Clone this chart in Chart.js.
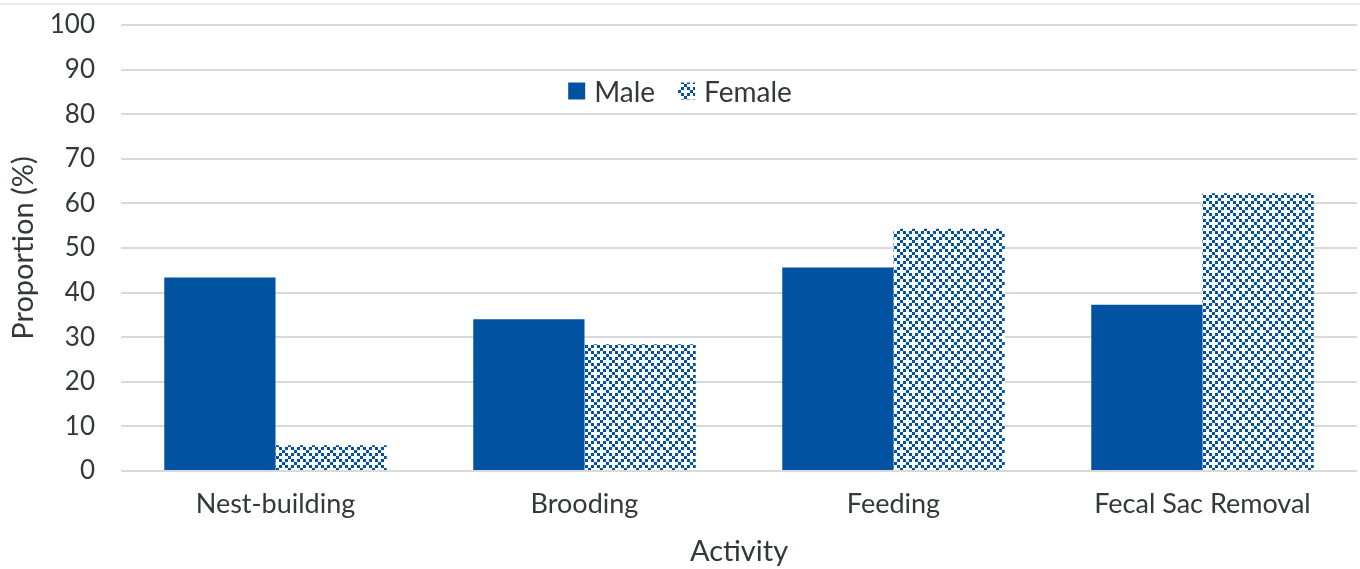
<!DOCTYPE html>
<html>
<head>
<meta charset="utf-8">
<script src="https://cdn.jsdelivr.net/npm/chart.js@4.4.1/dist/chart.umd.min.js"></script>
<style>
  html, body { margin: 0; padding: 0; background: #ffffff; }
  #wrap { width: 1360px; height: 569px; position: relative; }
</style>
</head>
<body>
<div id="wrap"><canvas id="c" width="1360" height="569"></canvas></div>
<script>
const categories = ['Nest-building', 'Brooding', 'Feeding', 'Fecal Sac Removal'];
const maleValues = [43.4, 34.0, 45.6, 37.3];
const femaleValues = [5.8, 28.4, 54.3, 62.3];
const yTicks = [0, 10, 20, 30, 40, 50, 60, 70, 80, 90, 100];
const seriesNames = ['Male', 'Female'];

const BLUE = '#0152a0';
const TEXT = '#333838';
const GRID = '#d9d9d9';
const FONT = "Lato, 'Open Sans', sans-serif";

function makePattern() {
  const cell = 3, n = 4;
  const cv = document.createElement('canvas');
  cv.width = cell * n; cv.height = cell * n;
  const g = cv.getContext('2d');
  g.fillStyle = '#ffffff';
  g.fillRect(0, 0, cv.width, cv.height);
  g.fillStyle = BLUE;
  for (let y = 0; y < n; y++) {
    for (let x = 0; x < n; x++) {
      if ((x + y) % 4 === 0 || (x - y + 4) % 4 === 0) {
        g.fillRect(x * cell, y * cell, cell, cell);
      }
    }
  }
  return g.createPattern(cv, 'repeat');
}

const ctx = document.getElementById('c').getContext('2d');
const femalePattern = makePattern();

const legendPlugin = {
  id: 'insideLegend',
  afterDraw(chart) {
    const c = chart.ctx;
    c.save();
    c.font = '28px ' + FONT;
    c.textBaseline = 'middle';
    const box = 17, gapBoxText = 9, gapItems = 23;
    const items = chart.data.datasets.map(ds => ({ label: ds.label, fill: ds.backgroundColor }));
    let total = 0;
    items.forEach((it, i) => {
      it.w = c.measureText(it.label).width;
      total += box + gapBoxText + it.w + (i < items.length - 1 ? gapItems : 0);
    });
    let x = chart.width / 2 - total / 2;
    const yc = 92;
    items.forEach(it => {
      c.fillStyle = it.fill;
      c.fillRect(x, yc - box / 2 - 1, box, box);
      x += box + gapBoxText;
      c.fillStyle = TEXT;
      c.fillText(it.label, x, yc + 1);
      x += it.w + gapItems;
    });
    c.restore();
  },
  beforeDraw(chart) {
    const c = chart.ctx;
    c.save();
    c.fillStyle = '#ffffff';
    c.fillRect(0, 0, chart.width, chart.height);
    c.strokeStyle = '#e3e3e3';
    c.lineWidth = 1.5;
    c.beginPath();
    c.moveTo(0, 4);
    c.lineTo(chart.width, 4);
    c.stroke();
    c.restore();
  }
};

new Chart(ctx, {
  type: 'bar',
  data: {
    labels: categories,
    datasets: [
      { label: seriesNames[0], data: maleValues, backgroundColor: BLUE, borderWidth: 0,
        categoryPercentage: 0.72, barPercentage: 1.0 },
      { label: seriesNames[1], data: femaleValues, backgroundColor: femalePattern, borderWidth: 0,
        categoryPercentage: 0.72, barPercentage: 1.0 }
    ]
  },
  options: {
    responsive: false,
    animation: false,
    devicePixelRatio: 1,
    layout: { padding: { top: 25, right: 3, left: 0, bottom: 0 } },
    plugins: {
      legend: { display: false },
      tooltip: { enabled: false }
    },
    scales: {
      x: {
        grid: { display: false, drawTicks: false },
        border: { display: false },
        ticks: { color: TEXT, font: { family: FONT, size: 27 }, padding: 17 },
        title: { display: true, text: 'Activity', color: TEXT,
                 font: { family: FONT, size: 29 }, padding: { top: 0, bottom: 0 } },
        afterFit(s) { s.height = 98; s.paddingLeft = 0; s.paddingRight = 0; }
      },
      y: {
        min: 0, max: 100,
        afterBuildTicks(s) { s.ticks = yTicks.map(v => ({ value: v })); },
        grid: { color: GRID, lineWidth: 2, drawTicks: false },
        border: { display: false },
        ticks: { color: TEXT, font: { family: FONT, size: 26 }, padding: 26 },
        title: { display: true, text: 'Proportion (%)', color: TEXT,
                 font: { family: FONT, size: 29 }, padding: { top: 6, bottom: 4 } },
        afterFit(s) { s.width = 121; s.paddingTop = 0; s.paddingBottom = 0; }
      }
    }
  },
  plugins: [legendPlugin]
});
</script>
</body>
</html>
